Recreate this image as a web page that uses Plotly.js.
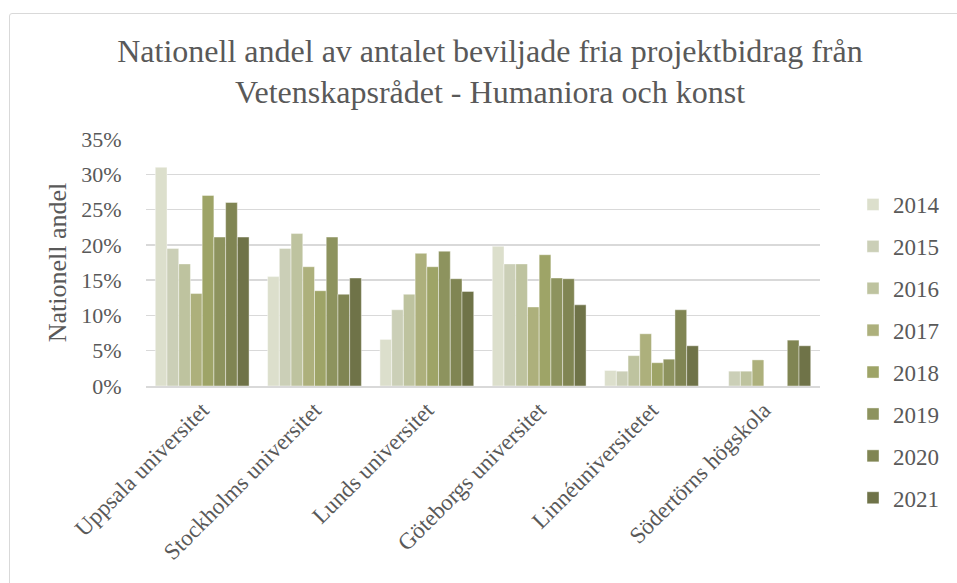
<!DOCTYPE html>
<html>
<head>
<meta charset="utf-8">
<script src="https://cdn.plot.ly/plotly-3.0.1.min.js"></script>
<style>
html,body{margin:0;padding:0;background:#fff;}
#chart{width:957px;height:583px;position:relative;}
#frame{position:absolute;left:9px;top:13px;width:960px;height:600px;border:1px solid #d9d9d9;border-radius:3px;pointer-events:none;}
</style>
</head>
<body>
<div id="chart"></div>
<div id="frame"></div>
<script>
const categories = ["Uppsala universitet","Stockholms universitet","Lunds universitet","Göteborgs universitet","Linnéuniversitetet","Södertörns högskola"];
const years = ["2014","2015","2016","2017","2018","2019","2020","2021"];
const v2014 = [31.0, 15.5, 6.6, 19.8, 2.2, null];
const v2015 = [19.5, 19.5, 10.8, 17.3, 2.1, 2.1];
const v2016 = [17.3, 21.6, 13.0, 17.3, 4.3, 2.1];
const v2017 = [13.1, 16.9, 18.8, 11.2, 7.4, 3.7];
const v2018 = [27.0, 13.5, 16.9, 18.6, 3.3, null];
const v2019 = [21.1, 21.1, 19.1, 15.3, 3.8, null];
const v2020 = [26.0, 13.0, 15.2, 15.2, 10.8, 6.5];
const v2021 = [21.1, 15.3, 13.4, 11.5, 5.7, 5.7];
const seriesValues = [v2014, v2015, v2016, v2017, v2018, v2019, v2020, v2021];
const colors = ["#dcdfcc","#cbcfb7","#bec39f","#adb07c","#9ea467","#8d935e","#808553","#6f7348"];

const textColor = "#595959";
const serif = "Liberation Serif, Times New Roman, serif";

const traces = years.map((y, i) => ({
  type: "bar",
  name: y,
  x: categories,
  y: seriesValues[i],
  legendgroup: y,
  marker: {color: colors[i], line: {color: "rgba(255,255,255,0.6)", width: 0.7}},
  hoverinfo: "x+y+name"
}));

// plot area spans y 139..386 for the axis; the layout area is taller so the legend fits
const mT = 100, mB = 40, H = 583;
const gsH = H - mT - mB;
const domBottom = (H - mB - 386) / gsH;
const domTop = (H - mB - 139) / gsH;

const layout = {
  width: 957,
  height: 583,
  paper_bgcolor: "rgba(0,0,0,0)",
  plot_bgcolor: "rgba(0,0,0,0)",
  margin: {l: 146, r: 135, t: mT, b: mB},
  barmode: "group",
  bargap: 0.165,
  bargroupgap: 0,
  font: {family: serif, color: textColor, size: 22},
  title: {
    text: "Nationell andel av antalet beviljade fria projektbidrag från<br>Vetenskapsrådet - Humaniora och konst",
    font: {family: serif, size: 32, color: textColor},
    x: 0.512, xref: "container", xanchor: "center",
    y: 0.894, yref: "container", yanchor: "top"
  },
  xaxis: {
    type: "category",
    tickangle: -45,
    tickfont: {family: serif, size: 23, color: textColor},
    showgrid: false,
    showline: true,
    linecolor: "#d9d9d9",
    linewidth: 1.5,
    ticks: "",
    fixedrange: true
  },
  yaxis: {
    domain: [domBottom, domTop],
    range: [0, 35],
    dtick: 5,
    ticksuffix: "%",
    tickfont: {family: serif, size: 22, color: textColor},
    gridcolor: "#d9d9d9",
    gridwidth: 1.3,
    zeroline: false,
    showline: false,
    ticks: "outside",
    ticklen: 19,
    tickcolor: "rgba(0,0,0,0)",
    title: {text: "Nationell andel", font: {family: serif, size: 26, color: textColor}, standoff: 7},
    fixedrange: true
  },
  legend: {
    x: 1.049, xanchor: "left",
    y: (H - mB - 183) / gsH, yanchor: "top",
    font: {family: serif, size: 23, color: textColor},
    tracegroupgap: 9,
    traceorder: "grouped",
    itemclick: false
  },
  showlegend: true
};

Plotly.newPlot("chart", traces, layout, {displayModeBar: false, staticPlot: true});
</script>
</body>
</html>
